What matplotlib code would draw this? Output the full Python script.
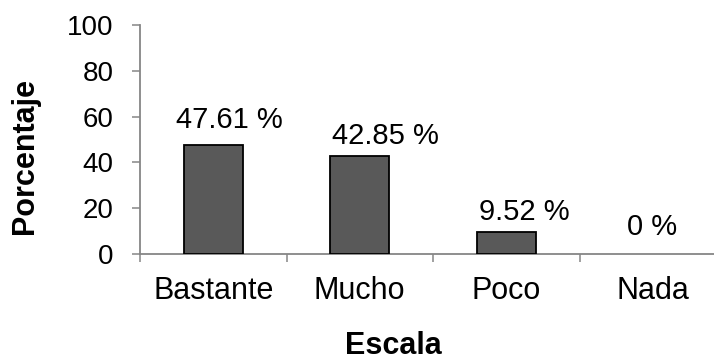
import matplotlib.pyplot as plt
import numpy as np

categories = ["Bastante", "Mucho", "Poco", "Nada"]
values = [47.61, 42.85, 9.52, 0]
value_labels = ["47.61 %", "42.85 %", "9.52 %", "0 %"]

# hand-placed label offsets from the bar top centre, in pixels (dx, dy)
label_dx = [16, 26, 18, -1]
label_dy = [17, 12, 12, 19]

plt.rcParams['font.family'] = ['Liberation Sans', 'DejaVu Sans']

fig = plt.figure(figsize=(7.14, 3.62), dpi=100)
W, H = 714, 362
# plot area in pixels (axis extends past the right edge, like the source)
x0, x1, y0, y1 = 140, 726, 254, 25
ax = fig.add_axes([x0 / W, 1 - y0 / H, (x1 - x0) / W, (y0 - y1) / H])

ind = np.arange(len(categories))
edges = ['black' if v > 0 else 'none' for v in values]
ax.bar(ind, values, width=0.4, color='#595959', edgecolor=edges, linewidth=1.3, zorder=3)

px = 72 / 100
for i, (v, lab) in enumerate(zip(values, value_labels)):
    ax.annotate(lab, (i, v), xytext=(label_dx[i] * px, label_dy[i] * px),
                textcoords='offset points', ha='center', va='baseline', fontsize=21)

ax.set_xlim(-0.5, len(categories) - 0.5)
ax.set_ylim(0, 100)
ax.set_yticks(np.arange(0, 101, 20))
ax.set_xticks(ind)
ax.set_xticklabels(categories, fontsize=22)
ax.set_xticks(np.arange(-0.5, len(categories), 1), minor=True)
ax.tick_params(axis='x', which='major', length=0, pad=16)
ax.tick_params(axis='x', which='minor', length=6, width=1.1, color='#868686', direction='out')
ax.tick_params(axis='y', labelsize=20, length=6, width=1.1, color='#868686', pad=13)

for side in ['top', 'right']:
    ax.spines[side].set_visible(False)
for side in ['left', 'bottom']:
    ax.spines[side].set_color('#868686')
    ax.spines[side].set_linewidth(1.3)

fig.text(25 / W, 1 - 156 / H, 'Porcentaje', rotation=90, fontsize=22, fontweight='bold',
         ha='center', va='center')
fig.text(393 / W, 1 - 361 / H, 'Escala', fontsize=22, fontweight='bold',
         ha='center', va='bottom')

fig.savefig('out.png', dpi=100)
